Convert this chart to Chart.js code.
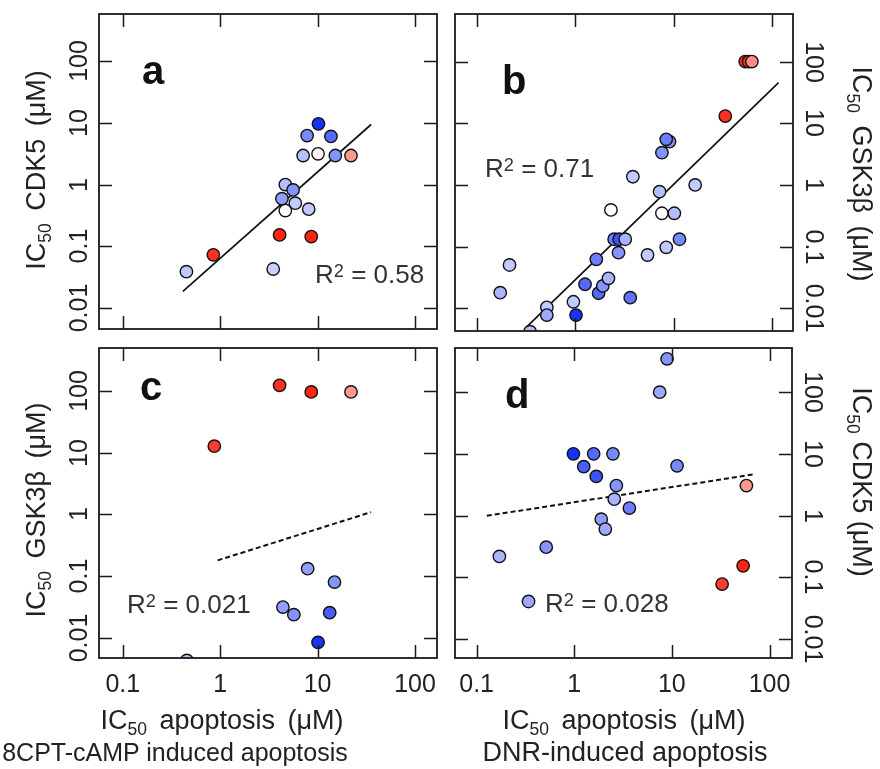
<!DOCTYPE html>
<html>
<head>
<meta charset="UTF-8">
<title>IC50 kinase vs apoptosis</title>
<script src="https://cdn.jsdelivr.net/npm/chart.js"></script>
<style>
body { margin: 0; background: #fff; font-family: "Liberation Sans", Arial, Helvetica, sans-serif; color: #222; }
#fig { position: relative; width: 880px; height: 769px; overflow: hidden; }
#fig canvas { position: absolute; left: 0; top: 0; }
.lbl { position: absolute; white-space: nowrap; line-height: 1; }
.tk { font-size: 25px; }
.ttl { font-size: 27px; }
.wide { word-spacing: 5px; }
.sub2 { font-size: 25px; }
.r2 { font-size: 26px; color: #333; }
.let { font-size: 40px; font-weight: bold; color: #111; }
sub { font-size: 0.65em; position: relative; top: 0.32em; vertical-align: baseline; }
sup { font-size: 0.7em; position: relative; top: -0.34em; vertical-align: baseline; }
</style>
</head>
<body>
<div id="fig"></div>

<script>
// axis ticks shared by every panel
const xTicks = [0.1, 1, 10, 100];
const yTicks = [0.01, 0.1, 1, 10, 100];
const xTickLabels = ['0.1', '1', '10', '100'];
const yTickLabels = ['0.01', '0.1', '1', '10', '100'];

// a: CDK5 vs 8CPT-cAMP apoptosis
const aX = [0.45, 0.85, 3.5, 4.07, 8.6, 4.66, 5.9, 8.1, 4.3, 4.66, 5.6, 7.1, 10.1, 15.2, 22, 7.8, 13.7, 10.2];
const aY = [0.039, 0.073, 0.043, 0.153, 0.144, 0.38, 0.5, 0.4, 0.59, 1.0, 0.82, 2.95, 3.14, 2.95, 2.95, 6.2, 6.0, 9.6];
const aShade = [-0.25, 0.9, -0.22, 0.95, 0.95, 0, -0.25, -0.25, -0.45, -0.3, -0.5, -0.3, 0.05, -0.5, 0.45, -0.55, -0.7, -0.95];
const aFitX = [0.414, 35.4];
const aFitY = [0.0187, 9.37];

// b: GSK3b vs DNR apoptosis
const bX = [0.173, 0.215, 0.515, 0.515, 0.348, 0.96, 1.02, 1.26, 1.73, 1.91, 2.18, 1.64, 3.63, 2.49, 2.8, 3.23, 2.76, 5.44, 8.43, 11.5, 2.31, 7.62, 10.2, 7.21, 3.86, 16.6, 7.62, 9.1, 8.43, 33.6, 53.6, 58, 62.7];
const bY = [0.018, 0.0505, 0.0104, 0.0078, 0.0042, 0.0128, 0.0078, 0.0246, 0.0176, 0.0231, 0.0307, 0.0624, 0.0149, 0.132, 0.132, 0.132, 0.08, 0.0733, 0.0977, 0.132, 0.394, 0.348, 0.348, 0.78, 1.36, 1.0, 3.34, 5.03, 5.5, 13.1, 100, 100, 100];
const bShade = [-0.35, -0.25, -0.25, -0.4, -0.3, -0.25, -0.95, -0.7, -0.7, -0.5, -0.35, -0.6, -0.65, -0.6, -0.8, -0.35, -0.5, -0.25, -0.25, -0.55, 0, 0, -0.3, -0.3, -0.25, -0.25, -0.5, -0.5, -0.6, 0.9, 0.9, 0.9, 0.5];
const bFitX = [0.31, 117];
const bFitY = [0.00475, 45.5];

// c: GSK3b vs 8CPT-cAMP apoptosis
const cX = [4.07, 8.6, 22, 0.87, 7.9, 14.9, 4.4, 5.7, 13.3, 10.1, 0.455];
const cY = [124, 97, 97, 12.8, 0.132, 0.08, 0.0315, 0.0237, 0.0255, 0.0084, 0.0043];
const cShade = [0.9, 0.95, 0.45, 0.85, -0.45, -0.5, -0.45, -0.5, -0.75, -0.95, -0.3];
const cFitX = [0.94, 35.4];
const cFitY = [0.18, 1.09];

// d: CDK5 vs DNR apoptosis
const dX = [8.93, 7.5, 0.98, 1.58, 2.49, 1.25, 1.68, 11.3, 2.7, 2.57, 3.67, 1.89, 2.08, 0.516, 0.171, 0.34, 58, 53.7, 32.7];
const dY = [347, 100, 10, 10, 10, 6.2, 4.3, 6.4, 3.06, 1.84, 1.32, 0.874, 0.602, 0.307, 0.217, 0.0404, 3.06, 0.153, 0.0773];
const dShade = [-0.5, -0.4, -0.95, -0.7, -0.55, -0.75, -0.8, -0.55, -0.5, -0.35, -0.6, -0.45, -0.4, -0.5, -0.35, -0.4, 0.45, 0.95, 0.85];
const dFitX = [0.127, 71.8];
const dFitY = [0.99, 4.69];

const panels = [
  { x: aX, y: aY, shade: aShade, fitX: aFitX, fitY: aFitY, dashed: false,
    box: [99, 14, 437, 329], xr: [0.057, 168], yr: [0.0046, 575],
    side: 'left', bottom: false, letter: ['a', 142, 84], r2: ['0.58', 315, 283] },
  { x: bX, y: bY, shade: bShade, fitX: bFitX, fitY: bFitY, dashed: false,
    box: [455, 14, 793, 331], xr: [0.06, 164], yr: [0.0043, 590],
    side: 'right', bottom: false, letter: ['b', 502, 94], r2: ['0.71', 485, 177] },
  { x: cX, y: cY, shade: cShade, fitX: cFitX, fitY: cFitY, dashed: true,
    box: [99, 348, 437, 658], xr: [0.057, 168], yr: [0.0047, 500],
    side: 'left', bottom: true, letter: ['c', 140, 400], r2: ['0.021', 127, 613] },
  { x: dX, y: dY, shade: dShade, fitX: dFitX, fitY: dFitY, dashed: true,
    box: [455, 348, 792, 658], xr: [0.06, 170], yr: [0.0049, 520],
    side: 'right', bottom: true, letter: ['d', 505, 408], r2: ['0.028', 545, 612] }
];

function shadeColor(s) {
  const t = Math.min(1, Math.abs(s));
  const end = s < 0 ? [10, 40, 250] : [255, 25, 5];
  const c = end.map(e => Math.round(255 + (e - 255) * t));
  return 'rgb(' + c.join(',') + ')';
}

const TL = 13;
const frame = {
  id: 'frame',
  afterDatasetsDraw(chart) {
    const { ctx, chartArea: a, scales } = chart;
    ctx.save();
    ctx.strokeStyle = '#1a1a1a';
    ctx.lineWidth = 1.8;
    ctx.strokeRect(a.left, a.top, a.right - a.left, a.bottom - a.top);
    ctx.beginPath();
    xTicks.forEach(v => {
      const px = Math.round(scales.x.getPixelForValue(v)) + 0.5;
      ctx.moveTo(px, a.top); ctx.lineTo(px, a.top + TL);
      ctx.moveTo(px, a.bottom); ctx.lineTo(px, a.bottom - TL);
    });
    yTicks.forEach(v => {
      const py = Math.round(scales.y.getPixelForValue(v)) + 0.5;
      ctx.moveTo(a.left, py); ctx.lineTo(a.left + TL, py);
      ctx.moveTo(a.right, py); ctx.lineTo(a.right - TL, py);
    });
    ctx.lineWidth = 1.5;
    ctx.stroke();
    ctx.restore();
  }
};

const fig = document.getElementById('fig');

function addLabel(html, cls, x, y, rot) {
  const d = document.createElement('div');
  d.className = 'lbl ' + cls;
  d.innerHTML = html;
  d.style.left = x + 'px';
  d.style.top = y + 'px';
  d.style.transform = 'translate(-50%, -50%)' + (rot ? ' rotate(' + rot + 'deg)' : '');
  fig.appendChild(d);
}

function addText(html, cls, left, baseline, size) {
  const d = document.createElement('div');
  d.className = 'lbl ' + cls;
  d.innerHTML = html;
  d.style.left = left + 'px';
  d.style.top = (baseline - 0.8465 * size) + 'px';
  fig.appendChild(d);
}

panels.forEach(p => {
  const cv = document.createElement('canvas');
  cv.width = 880; cv.height = 769;
  fig.appendChild(cv);
  const pts = p.x.map((v, i) => ({ x: v, y: p.y[i] }));
  const fit = p.fitX.map((v, i) => ({ x: v, y: p.fitY[i] }));
  const chart = new Chart(cv.getContext('2d'), {
    type: 'scatter',
    data: {
      datasets: [
        { data: pts, pointRadius: 6.2, pointHoverRadius: 6.2, pointBorderWidth: 1.4,
          pointBorderColor: '#111', pointBackgroundColor: p.shade.map(shadeColor), clip: 0 },
        { type: 'line', data: fit, showLine: true, borderColor: '#111',
          borderWidth: p.dashed ? 2 : 1.7, borderDash: p.dashed ? [5, 3] : [],
          pointRadius: 0, fill: false, clip: 0 }
      ]
    },
    options: {
      responsive: false, animation: false, devicePixelRatio: 1, events: [],
      layout: { padding: { left: p.box[0], top: p.box[1], right: 880 - p.box[2], bottom: 769 - p.box[3] } },
      plugins: { legend: { display: false }, tooltip: { enabled: false } },
      scales: {
        x: { type: 'logarithmic', min: p.xr[0], max: p.xr[1], display: false },
        y: { type: 'logarithmic', min: p.yr[0], max: p.yr[1], display: false }
      }
    },
    plugins: [frame]
  });

  const ca = chart.chartArea;
  yTicks.forEach((v, i) => {
    const py = chart.scales.y.getPixelForValue(v);
    if (p.side === 'left') addLabel(yTickLabels[i], 'tk', ca.left - 21, py, -90);
    else addLabel(yTickLabels[i], 'tk', ca.right + 21, py, 90);
  });
  if (p.bottom) {
    xTicks.forEach((v, i) => {
      addLabel(xTickLabels[i], 'tk', chart.scales.x.getPixelForValue(v), ca.bottom + 25, 0);
    });
  }
  addText(p.letter[0], 'let', p.letter[1], p.letter[2], 40);
  addText('R<sup>2</sup> = ' + p.r2[0], 'r2', p.r2[1], p.r2[2], 26);
});

// axis titles
addLabel('IC<sub>50</sub> CDK5 (μM)', 'ttl wide', 36, 170, -90);
addLabel('IC<sub>50</sub> GSK3β (μM)', 'ttl wide', 36, 510, -90);
addLabel('IC<sub>50</sub> GSK3β (μM)', 'ttl wide', 861, 174, 90);
addLabel('IC<sub>50</sub> CDK5 (μM)', 'ttl', 861, 482, 90);
addLabel('IC<sub>50</sub> apoptosis (μM)', 'ttl wide', 222, 720, 0);
addLabel('8CPT-cAMP induced apoptosis', 'sub2', 175, 752, 0);
addLabel('IC<sub>50</sub> apoptosis (μM)', 'ttl wide', 624, 720, 0);
addLabel('DNR-induced apoptosis', 'ttl', 625, 752, 0);
</script>
</body>
</html>
